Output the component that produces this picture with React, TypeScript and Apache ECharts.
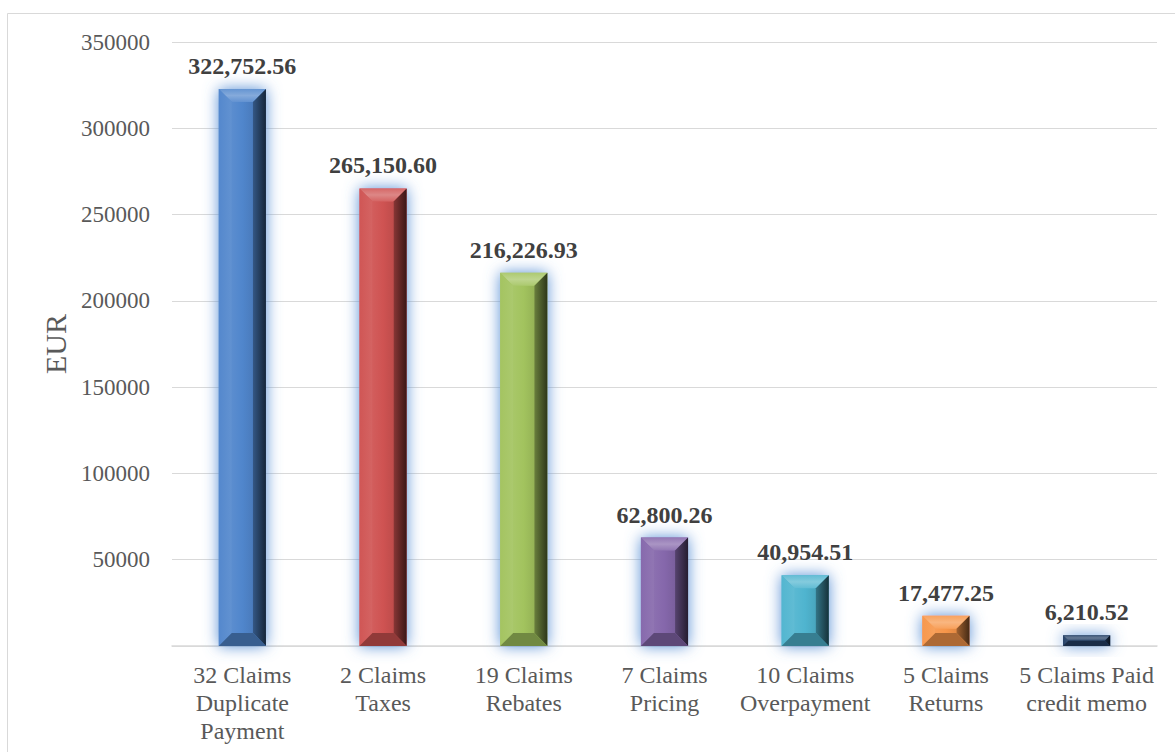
import React, { useEffect, useRef } from "react";
import * as echarts from "echarts";

const categories = [
  "32 Claims\nDuplicate\nPayment",
  "2 Claims\nTaxes",
  "19 Claims\nRebates",
  "7 Claims\nPricing",
  "10 Claims\nOverpayment",
  "5 Claims\nReturns",
  "5 Claims Paid\ncredit memo",
];
const values = [322752.56, 265150.6, 216226.93, 62800.26, 40954.51, 17477.25, 6210.52];
const barColors = ["#5086cc", "#cf5352", "#a2c35e", "#8567ab", "#4fb4cf", "#f7964a", "#233f66"];
const yTicks = { min: 0, max: 350000, interval: 50000 };

const FONT = "Liberation Serif";

function hexToRgb(h: string): number[] {
  const s = h.replace("#", "");
  return [0, 2, 4].map((i) => parseInt(s.slice(i, i + 2), 16));
}
function mix(hex: string, target: number, t: number): string {
  const c = hexToRgb(hex).map((v) => Math.round(v + (target - v) * t));
  return `rgb(${c[0]},${c[1]},${c[2]})`;
}
const lighten = (h: string, t: number) => mix(h, 255, t);
const darken = (h: string, t: number) => mix(h, 0, t);

function fmt(v: number): string {
  return v.toLocaleString("en-US", { minimumFractionDigits: 2, maximumFractionDigits: 2 });
}

export default function App() {
  const ref = useRef<HTMLDivElement>(null);
  useEffect(() => {
    if (!ref.current) return;
    const chart = echarts.init(ref.current, undefined, { renderer: "svg" });
    const option: any = {
      animation: false,
      backgroundColor: "#ffffff",
      textStyle: { fontFamily: FONT },
      graphic: [
        {
          type: "rect",
          shape: { x: 7.5, y: 13.5, width: 1185, height: 760 },
          style: { fill: "none", stroke: "#d9d9d9", lineWidth: 1 },
          silent: true,
        },
      ],
      grid: { left: 172, right: 18, top: 42, bottom: 106 },
      xAxis: {
        type: "category",
        data: categories,
        axisLine: { show: true, lineStyle: { color: "#d9d9d9", width: 1.5 } },
        axisTick: { show: false },
        axisLabel: {
          interval: 0,
          color: "#595959",
          fontFamily: FONT,
          fontSize: 24,
          lineHeight: 28,
          margin: 15,
        },
      },
      yAxis: {
        type: "value",
        min: yTicks.min,
        max: yTicks.max,
        interval: yTicks.interval,
        name: "EUR",
        nameLocation: "middle",
        nameRotate: 90,
        nameGap: 99,
        nameTextStyle: { color: "#595959", fontFamily: FONT, fontSize: 30 },
        axisLine: { show: false },
        axisTick: { show: false },
        splitLine: { lineStyle: { color: "#d9d9d9", width: 1.2 } },
        axisLabel: {
          color: "#595959",
          fontFamily: FONT,
          fontSize: 23,
          margin: 22,
          formatter: (v: number) => (v === 0 ? "" : String(v)),
        },
      },
      series: [
        {
          type: "custom",
          data: values.map((v, i) => [i, v]),
          encode: { x: 0, y: 1 },
          renderItem: (params: any, api: any) => {
            const idx = params.dataIndex;
            const val = api.value(1);
            const top = api.coord([api.value(0), val]);
            const base = api.coord([api.value(0), 0]);
            const bw = api.size([1, 0])[0] * 0.335;
            const x0 = top[0] - bw / 2;
            const x1 = top[0] + bw / 2;
            const y0 = top[1];
            const y1 = base[1];
            const h = y1 - y0;
            const b = Math.min(13, h / 2, bw / 3.5);
            const c = barColors[idx];
            return {
              type: "group",
              children: [
                {
                  type: "rect",
                  shape: { x: x0, y: y0, width: bw, height: h },
                  style: {
                    fill: c,
                    shadowBlur: 15,
                    shadowColor: "rgba(84,141,212,1)",
                  },
                },
                {
                  type: "rect",
                  shape: { x: x0 + b, y: y0 + b, width: bw - 2 * b, height: Math.max(0, h - 2 * b) },
                  style: {
                    fill: new echarts.graphic.LinearGradient(0, 0, 1, 0, [
                      { offset: 0, color: lighten(c, 0.06) },
                      { offset: 0.5, color: c },
                      { offset: 1, color: darken(c, 0.08) },
                    ]),
                  },
                },
                {
                  type: "polygon",
                  shape: { points: [[x0, y0], [x1, y0], [x1 - b, y0 + b], [x0 + b, y0 + b]] },
                  style: {
                    fill: new echarts.graphic.LinearGradient(0, 0, 0, 1, [
                      { offset: 0, color: lighten(c, 0.12) },
                      { offset: 0.5, color: lighten(c, 0.3) },
                      { offset: 1, color: lighten(c, 0.1) },
                    ]),
                  },
                },
                {
                  type: "polygon",
                  shape: { points: [[x0, y0], [x0 + b, y0 + b], [x0 + b, y1 - b], [x0, y1]] },
                  style: {
                    fill: new echarts.graphic.LinearGradient(0, 0, 1, 0, [
                      { offset: 0, color: lighten(c, 0.02) },
                      { offset: 1, color: lighten(c, 0.1) },
                    ]),
                  },
                },
                {
                  type: "polygon",
                  shape: { points: [[x1, y0], [x1, y1], [x1 - b, y1 - b], [x1 - b, y0 + b]] },
                  style: {
                    fill: new echarts.graphic.LinearGradient(0, 0, 1, 0, [
                      { offset: 0, color: darken(c, 0.35) },
                      { offset: 1, color: darken(c, 0.72) },
                    ]),
                  },
                },
                {
                  type: "polygon",
                  shape: { points: [[x0, y1], [x1, y1], [x1 - b, y1 - b], [x0 + b, y1 - b]] },
                  style: { fill: darken(c, 0.3) },
                },
                {
                  type: "text",
                  x: top[0],
                  y: y0 - 23,
                  style: {
                    text: fmt(val),
                    fill: "#404040",
                    fontFamily: FONT,
                    fontWeight: "bold",
                    fontSize: 24,
                    textAlign: "center",
                    textVerticalAlign: "middle",
                    align: "center",
                    verticalAlign: "middle",
                  },
                },
              ],
            };
          },
        },
      ],
    };
    chart.setOption(option);
    return () => chart.dispose();
  }, []);
  return (
    <div
      ref={ref}
      style={{ position: "absolute", left: 0, top: 0, width: 1175, height: 752 }}
    />
  );
}
